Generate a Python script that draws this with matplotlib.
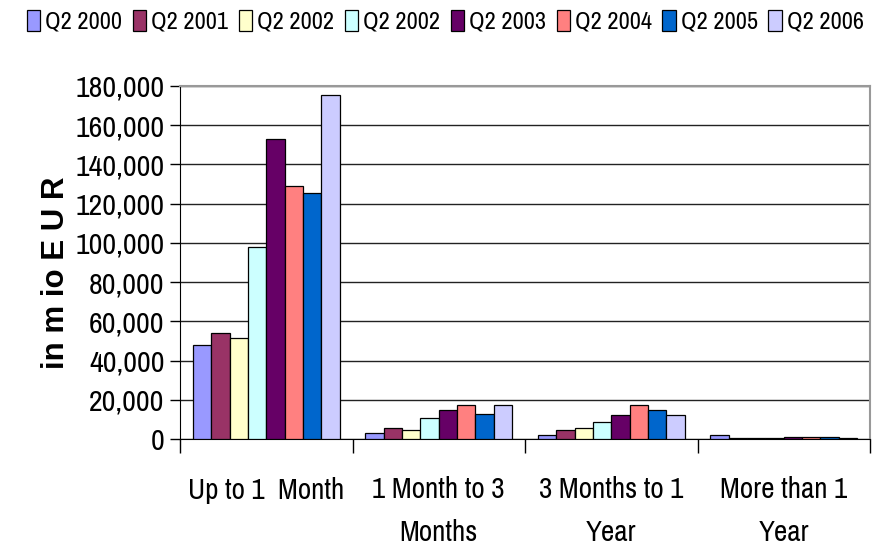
import matplotlib
matplotlib.use("Agg")
import matplotlib.pyplot as plt
import numpy as np

plt.rcParams['font.family'] = ['Archivo Narrow', 'Liberation Sans', 'DejaVu Sans']

categories = ["Up to 1  Month", "1 Month to 3\nMonths", "3 Months to 1\nYear", "More than 1\nYear"]
series_names = ["Q2 2000", "Q2 2001", "Q2 2002", "Q2 2002", "Q2 2003", "Q2 2004", "Q2 2005", "Q2 2006"]
colors = ["#9999FF", "#993366", "#FFFFCC", "#CCFFFF", "#660066", "#FF8080", "#0066CC", "#CCCCFF"]

q2_2000 = [47700, 2900, 1900, 2100]
q2_2001 = [54000, 5500, 4800, 300]
q2_2002a = [51500, 4800, 5500, 300]
q2_2002b = [97800, 10600, 8700, 300]
q2_2003 = [152900, 14700, 12100, 1000]
q2_2004 = [129000, 17400, 17400, 1000]
q2_2005 = [125600, 12800, 14700, 1000]
q2_2006 = [175500, 17400, 12100, 400]
values = [q2_2000, q2_2001, q2_2002a, q2_2002b, q2_2003, q2_2004, q2_2005, q2_2006]

yticks = np.arange(0, 180001, 20000)
ytick_labels = [f"{v:,}" for v in yticks]

fig = plt.figure(figsize=(8.82, 5.56), dpi=100)
ax = fig.add_axes([180/882, 1-439/556, (870-180)/882, (439-86)/556])

n = len(values)
width = 0.85 / n
x = np.arange(len(categories))
handles = []
for i, (vals, c, name) in enumerate(zip(values, colors, series_names)):
    h = ax.bar(x - 0.425 + width*(i+0.5), vals, width, color=c, edgecolor="black",
               linewidth=0.9, label=name, zorder=3)
    handles.append(h)

ax.set_xlim(-0.5, 3.5)
ax.set_ylim(0, 180000)
ax.set_yticks(yticks)
ax.set_yticklabels(ytick_labels, fontsize=21.5)
ax.yaxis.grid(True, color="#222222", linewidth=1.0, zorder=0)
ax.set_axisbelow(True)

ax.set_xticks(x)
ax.set_xticklabels(categories, fontsize=21, linespacing=1.7)
ax.tick_params(axis='x', length=0, pad=27)
ax.set_xticks(np.arange(-0.5, 4.0, 1.0), minor=True)
ax.tick_params(axis='x', which='minor', length=10, width=1, color='black', direction='out')
ax.tick_params(axis='y', length=7, width=1, direction='out', pad=4)

for s in ['top', 'right']:
    ax.spines[s].set_color('#999999')
    ax.spines[s].set_linewidth(1.5)
ax.spines['left'].set_color('black')
ax.spines['bottom'].set_color('black')

ax.set_ylabel("in m io E U R", fontsize=22.5, fontweight='bold', family=['Liberation Sans', 'DejaVu Sans'])
ax.yaxis.set_label_coords(-0.158, 0.47)

fig.legend(handles=handles, labels=series_names, loc='upper center', bbox_to_anchor=(0.505, 1.022),
           ncol=8, frameon=False, fontsize=17.5, handlelength=0.55, handleheight=1.0,
           handletextpad=0.22, columnspacing=0.42)

fig.savefig("out.png", dpi=100, facecolor="white")
